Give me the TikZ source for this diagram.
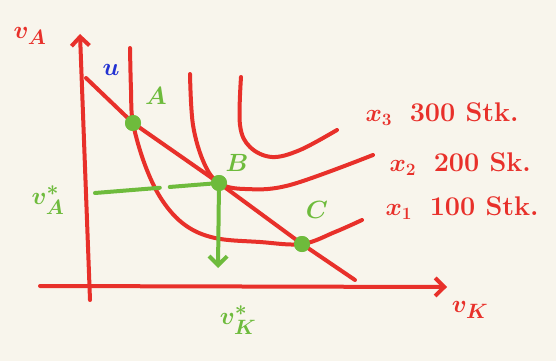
\documentclass[tikz,border=0pt]{standalone}
\usepackage{amsmath,amssymb}
\usetikzlibrary{arrows.meta}
\definecolor{pen}{RGB}{232,48,42}
\definecolor{leaf}{RGB}{110,187,60}
\definecolor{ink}{RGB}{35,50,210}
\definecolor{paper}{RGB}{248,245,236}

\begin{document}
\begin{tikzpicture}[x=1pt, y=-1pt, line cap=round, line join=round,
	every node/.style={font=\fontsize{30}{32}\selectfont\boldmath\bfseries},
	curve/.style={pen, line width=4pt},
	dot/.style={circle, fill=leaf, inner sep=0pt, minimum size=16pt},
	qlabel/.style={text=pen, anchor=west, font=\fontsize{27}{29}\selectfont\boldmath\bfseries},
	barb/.style={-{Straight Barb[length=9pt,width=18pt,line width=4pt]}}]
	\fill[paper] (0,0) rectangle (556,361);
	\useasboundingbox (0,0) rectangle (556,361);
	\coordinate (ybot) at (90,300);
	\coordinate (ytop) at (80,34);
	\coordinate (xstart) at (40,286);
	\coordinate (xend) at (447,287);
	\node[dot] (A) at (133,123) {};
	\node[dot] (B) at (219,183) {};
	\node[dot] (C) at (302,244) {};
	\coordinate (budget) at (86,78);
	\coordinate (budgetend) at (355,280);
	\coordinate (vAstar) at (95,193);
	\coordinate (Bfoot) at (218,268);
	\draw[curve, barb] (ybot) -- (ytop);
	\draw[curve, barb] (xstart) -- (xend);
	\draw[curve] plot[smooth, tension=0.6] coordinates {(130,48) (131,90) (A.center) (145,165) (162,200) (185,225) (215,238) (260,242) (C.center) (335,232) (362,220)};
	\draw[curve] plot[smooth, tension=0.6] coordinates {(190,74) (193,125) (204,163) (B.center) (245,189) (290,185) (373,155)};
	\draw[curve] plot[smooth, tension=0.6] coordinates {(241,77) (240,125) (250,147) (272,157) (300,150) (337,130)};
	\draw[curve] (budget) -- (A.center) -- (B.center) -- (C.center) -- (budgetend);
	\draw[leaf, line width=4pt, dash pattern=on 65pt off 10pt] (vAstar) -- (B.center);
	\draw[leaf, line width=4pt, barb] (B.center) -- (Bfoot);
	\node[dot] at (A) {};
	\node[dot] at (B) {};
	\node[dot] at (C) {};
	\node[text=pen] (vA) at (30,36) {$v_A$};
	\node[text=pen] (vK) at (470,310) {$v_K$};
	\node[text=ink] (u) at (111,70) {$u$};
	\node[text=leaf] (Alab) at (156,96) {$A$};
	\node[text=leaf] (Blab) at (237,163) {$B$};
	\node[text=leaf] (Clab) at (317,210) {$C$};
	\node[text=leaf] (vAs) at (48,200) {$v_A^*$};
	\node[text=leaf] (vKs) at (238,320) {$v_K^*$};
	\node[qlabel] (x3) at (362,114) {$x_3$\; 300 Stk.};
	\node[qlabel] (x2) at (386,164) {$x_2$\; 200 Sk.};
	\node[qlabel] (x1) at (382,208) {$x_1$\; 100 Stk.};
\end{tikzpicture}
\end{document}
